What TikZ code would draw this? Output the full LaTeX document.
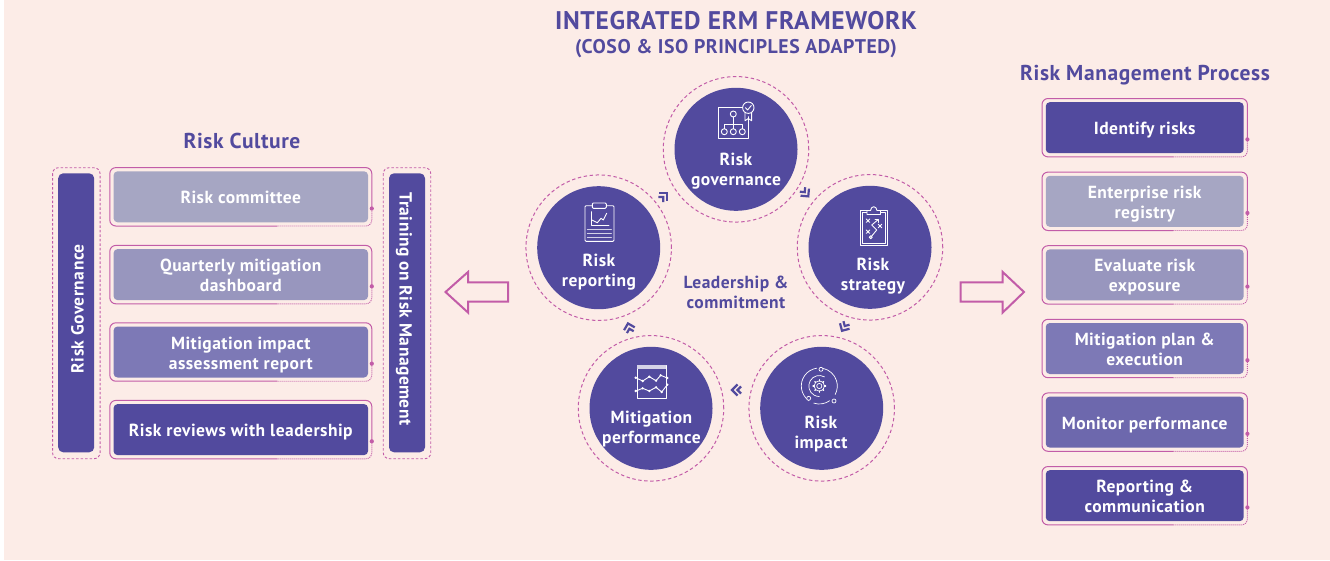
\documentclass[tikz,border=0pt]{standalone}
\usepackage{fontspec}
\setmainfont[LetterSpace=2.7]{PT Sans}
\usetikzlibrary{arrows.meta}
\definecolor{bgc}{HTML}{FCECE7}
\definecolor{ink}{HTML}{524A9E}
\definecolor{mag}{HTML}{C25CA8}
\definecolor{shadeA}{HTML}{A6A6C3}
\definecolor{shadeB}{HTML}{9896BE}
\definecolor{shadeC}{HTML}{7D79B6}
\definecolor{shadeD}{HTML}{6D68AD}
\newcommand{\bodyfont}{\bfseries\fontsize{17.5}{20}\selectfont}
\newcommand{\st}[1]{\rule{0pt}{19pt}#1\rule[-5pt]{0pt}{5pt}}
\tikzset{
  boxfill/.style={rounded corners=4pt,inner sep=0pt,text=white,align=center,font=\bodyfont},
  barfill/.style={fill=ink,rounded corners=5pt,inner sep=0pt,minimum width=279pt,minimum height=36pt},
  bartext/.style={text=white,inner sep=0pt,align=center,font=\bodyfont},
  barframe/.style={draw=mag,line width=0.9pt,dash pattern=on 2.5pt off 2pt,rounded corners=6pt,fill=none,inner sep=0pt,minimum width=291pt,minimum height=47.5pt},
  ringnode/.style={circle,draw=mag,line width=1pt,dash pattern=on 3.4pt off 2.6pt,minimum size=145.5pt,inner sep=0pt},
  discnode/.style={circle,fill=ink,minimum size=123pt,inner sep=0pt},
  disctext/.style={text=white,align=center,inner sep=0pt,font=\bodyfont},
  headtext/.style={text=ink,align=center,inner sep=0pt,font=\bfseries\fontsize{21.5}{24}\selectfont},
  icon/.style={draw=white,line width=0.9pt,line join=round,line cap=round,fill=none},
  blockarrow/.style={draw=mag,line width=2pt,line join=miter,fill=none},
  chevline/.style={draw=ink,line width=2.2pt,line join=miter,fill=none},
}
% name, cx, cy, width, colour, text
\newcommand{\riskbox}[6]{%
  \pgfmathsetmacro{\xl}{#2-#4/2}\pgfmathsetmacro{\xr}{#2+#4/2}
  \pgfmathsetmacro{\yt}{#3-29.2}\pgfmathsetmacro{\yb}{#3+29.2}
  \pgfmathsetmacro{\xm}{\xl+0.64*#4}\pgfmathsetmacro{\yd}{\yb-17.5}
  \node[boxfill,fill=#5,minimum width=#4*1pt-7.5pt,minimum height=51pt] (#1) at (#2,#3) {\st{#6}};
  \coordinate (#1dot) at (\xr,\yd);
  \draw[mag,line width=1pt,rounded corners=6pt] (\xm,\yb) -- (\xl,\yb) -- (\xl,\yt) -- (\xr,\yt) -- (#1dot);
  \draw[mag,line width=0.9pt,dash pattern=on 1pt off 1pt,rounded corners=6pt] (#1dot) -- (\xr,\yb) -- (\xm,\yb);
  \fill[mag] (#1dot) circle (2.1pt);
}
% x, y, direction in degrees (counterclockwise on the page)
\newcommand{\chevrons}[3]{%
  \begin{scope}[shift={(#1,#2)},rotate=#3]
    \draw[chevline] (-1.5,-5.5) -- (4,0) -- (-1.5,5.5);
    \draw[chevline] (-5,-3.5) -- (-1.5,0) -- (-5,3.5);
  \end{scope}
}
\begin{document}
\begin{tikzpicture}[x=1pt,y=-1pt]
\useasboundingbox (0,0) rectangle (1330,560);
\fill[white] (0,0) rectangle (1330,560);
\fill[bgc] (4,0) rectangle (1330,560);

% headings
\node[text=ink,inner sep=0pt,font=\bfseries\fontsize{25.5}{30}\selectfont] (title) at (736,21) {INTEGRATED ERM FRAMEWORK};
\node[text=ink,inner sep=0pt,font=\bfseries\fontsize{19.8}{22}\selectfont] (subtitle) at (736,48.5) {(COSO \& ISO PRINCIPLES ADAPTED)};
\node[headtext] (culture) at (242,141.5) {\st{Risk Culture}};
\node[headtext] (process) at (1145,73.5) {\st{Risk Management Process}};

% left side bars
\node[barframe,rotate=90] (govframe) at (76.3,313.2) {};
\node[barfill,rotate=90] (govbar) at (76.2,312.8) {};
\node[bartext,rotate=90] (govtext) at (76.7,308.7) {\st{Risk Governance}};
\node[barframe,rotate=90] (trainframe) at (407,313.2) {};
\node[barfill,rotate=-90] (trainbar) at (407,312.8) {};
\node[bartext,rotate=-90] (traintext) at (406.7,309) {\st{Training on Risk Management}};

% left boxes
\riskbox{rc}{240.8}{196.8}{262}{shadeA}{Risk committee}
\riskbox{qm}{240.8}{274.6}{262}{shadeB}{Quarterly mitigation\\dashboard}
\riskbox{mi}{240.8}{352}{262}{shadeC}{Mitigation impact\\assessment report}
\riskbox{rr}{240.8}{429.6}{262}{ink}{Risk reviews with leadership}

% right boxes
\riskbox{ir}{1144.7}{127.7}{205.4}{ink}{Identify risks}
\riskbox{er}{1144.7}{201.3}{205.4}{shadeA}{Enterprise risk\\registry}
\riskbox{ev}{1144.7}{274.9}{205.4}{shadeB}{Evaluate risk\\exposure}
\riskbox{mp}{1144.7}{348.5}{205.4}{shadeC}{Mitigation plan \&\\execution}
\riskbox{mo}{1144.7}{422.1}{205.4}{shadeD}{Monitor performance}
\riskbox{rp}{1144.7}{495.7}{205.4}{ink}{Reporting \&\\communication}

% circles
\node[ringnode] (r1) at (736,149.3) {};
\node[discnode] (d1) at (736,149.3) {};
\node[ringnode] (r2) at (870,247.3) {};
\node[discnode] (d2) at (870,247.3) {};
\node[ringnode] (r3) at (821.7,408.3) {};
\node[discnode] (d3) at (821.7,408.3) {};
\node[ringnode] (r4) at (651,408.3) {};
\node[discnode] (d4) at (651,408.3) {};
\node[ringnode] (r5) at (598.7,247.7) {};
\node[discnode] (d5) at (598.7,247.7) {};

\node[disctext] (t1) at (736,168) {\st{Risk\\governance}};
\node[disctext] (t2) at (873,273) {\st{Risk\\strategy}};
\node[disctext] (t3) at (821,431) {\st{Risk\\impact}};
\node[disctext] (t4) at (651.5,426) {\st{Mitigation\\performance}};
\node[disctext] (t5) at (599,269) {\st{Risk\\reporting}};
\node[text=ink,align=center,inner sep=0pt,font=\bodyfont] (centre) at (736,291) {\st{Leadership \&\\commitment}};

% chevrons
\chevrons{664.3}{196}{45}
\chevrons{805.7}{193.3}{-50}
\chevrons{844}{327.3}{-120}
\chevrons{736}{390}{180}
\chevrons{629}{327.3}{105}

% block arrows
\draw[blockarrow] (508,282.3) -- (468,282.3) -- (468,272) -- (445.5,292) -- (468,312.5) -- (468,301.7) -- (508,301.7) -- cycle;
\draw[blockarrow] (960.5,282.3) -- (1002.7,282.3) -- (1002.7,272) -- (1024,292) -- (1002.7,312.5) -- (1002.7,301.7) -- (960.5,301.7) -- cycle;

% icon: governance
\draw[icon] (741.7,107.7) -- (718.3,107.7) -- (718.3,138.3) -- (748.3,138.3) -- (748.3,116.7);
\draw[icon] (733.3,114) circle (3);
\draw[icon] (733.3,117) -- (733.3,128.7) (724.3,128.7) -- (724.3,124.3) -- (742.3,124.3) -- (742.3,128.7);
\foreach \ix in {724.3,733.3,742.3} \draw[icon] (\ix,131.7) circle (3);
\draw[icon] (748.3,107.7) circle (5.7);
\draw[icon] (745.5,107.8) -- (747.6,110) -- (751.3,105.5);
\draw[icon] (745,112.5) -- (745,120.7) -- (748.3,118.5) -- (751.6,120.7) -- (751.6,112.5);

% icon: reporting
\draw[icon,rounded corners=1pt] (592.3,205.7) -- (585,205.7) -- (585,241.3) -- (614,241.3) -- (614,205.7) -- (606.3,205.7);
\draw[icon,rounded corners=1pt] (592.3,203) rectangle (606.3,208.3);
\draw[icon] (591,211.7) -- (591,225) -- (609,225);
\draw[icon] (592,220) -- (597.3,222.7) -- (601,218.3) -- (603.3,220) -- (606.7,213.3);
\foreach \iy in {229.3,233.3,237.7} \draw[icon,white!75!ink] (587.3,\iy) -- (611.3,\iy);

% icon: strategy
\draw[icon] (860.7,210.7) rectangle (887.3,245.3);
\draw[icon] (862.7,212.7) rectangle (885.3,243.3);
\draw[icon,fill=ink] (867,214.5) -- (867,210.5) -- (870.5,210.5) .. controls (871,205.5) and (876.5,205.5) .. (877,210.5) -- (880.5,210.5) -- (880.5,214.5) -- cycle;
\draw[icon] (870.7,237.3) -- (876.7,230) -- (871.7,225) -- (877.7,220);
\draw[icon] (870.7,237.3) circle (1.5);
\draw[icon] (875,219.5) -- (878,219.5) -- (878,222.5);
\foreach \ix/\iy in {868/220.7,880/226,868/231.7} \draw[icon] (\ix-1.7,\iy-1.7) -- (\ix+1.7,\iy+1.7) (\ix-1.7,\iy+1.7) -- (\ix+1.7,\iy-1.7);

% icon: impact (angles run clockwise on the page because of the flipped y axis)
\draw[icon,line width=0.7pt] (819.3,386) circle (2.6);
\foreach \ia in {0,45,...,315} \draw[icon,line width=1.3pt] (819.3,386) ++(\ia:5) -- ++(\ia:1.3);
\draw[icon,line width=0.7pt] (819.3,386) circle (5.2);
\draw[icon,line width=0.7pt] (819.3,386) ++(-60:10.5) arc[start angle=-60,end angle=-270,radius=10.5];
\draw[icon,line width=0.7pt] (819.3,386) ++(125:18) arc[start angle=125,end angle=262,radius=18];
\draw[icon,line width=0.7pt] (819.3,386) ++(-78:18) arc[start angle=-78,end angle=28,radius=18];
\draw[icon,line width=0.7pt] (819.3,386) ++(55:18) arc[start angle=55,end angle=108,radius=18];
\foreach \ix/\iy in {821/369.3,808.7/398.3,834/401} \draw[icon,fill=ink,line width=0.7pt] (\ix,\iy) circle (2);

% icon: mitigation
\draw[icon] (637.3,365.3) rectangle (666,398.7);
\fill[white!75!ink] (637.3,365.3) rectangle (666,369);
\draw[icon] (635.7,377.7) -- (642.7,381) -- (649.3,376.7) -- (656,380.7) -- (660.7,375.3) -- (667.3,378);
\draw[icon] (635.7,391) -- (642.7,388.3) -- (649.3,391) -- (656,387.3) -- (661.7,392) -- (667.3,384.7);
\foreach \ix/\iy in {635.7/377.7,642.7/381,649.3/376.7,656/380.7,660.7/375.3,667.3/378,635.7/391,642.7/388.3,649.3/391,656/387.3,661.7/392,667.3/384.7}
  \fill[white] (\ix,\iy) circle (1.3);
\end{tikzpicture}
\end{document}
